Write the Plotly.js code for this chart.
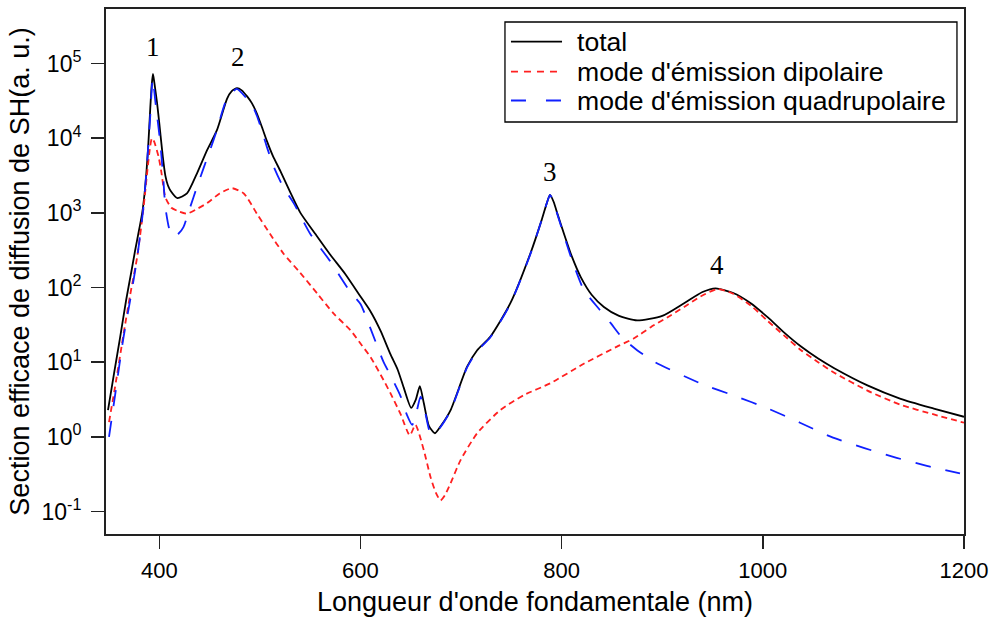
<!DOCTYPE html>
<html>
<head>
<meta charset="utf-8">
<script src="https://cdn.plot.ly/plotly-3.0.1.min.js"></script>
<style>html,body{margin:0;padding:0;background:#fff;}#chart{width:995px;height:622px;}</style>
</head>
<body>
<div id="chart"></div>
<script>
// Wavelength (nm) and SH scattering cross-section (a.u.) for each series
var totalX = [349,355,361,367,372,376,380,383,386,389,391,392.5,393.7,395,397.7,400,403.5,406,408.5,411,418,427.5,437.5,447.5,457.4,467.4,472,477.3,482,487.3,492,497,502,507,513,520.4,530,540.3,555,570,585,600,610,620,630,637,643,650.4,655,659,663,668,674,680,689.6,706,716,729,749,769,780,785,788.4,792,796,802.3,810,819,830,842,857,875,900,921.7,940,953,970,988,1005,1021,1038,1055,1071,1104,1137,1170,1200];
var totalY = [2.29,7.08,21.4,67.6,158,316,603,1000,2240,7940,25100,52500,72400,56200,30200,15800,5620,3160,2340,2000,1580,1820,3390,6920,12900,33900,42700,46800,43700,36300,29500,21400,14100,9120,5750,3630,1910,1000,525,275,151,75.9,47.9,26.3,12.6,7.94,4.57,2.45,3.16,4.79,2.82,1.41,1.12,1.41,2.29,8.71,14.5,21.9,61.7,288,794,1320,1740,1410,955,525,263,138,79.4,55,41.7,36.3,41.7,61.7,87.1,97.7,85.1,61.7,39.8,25.1,16.2,11.2,8.32,4.90,3.24,2.40,1.86];

var dipX = [350,357,364.6,371,378,384.4,388,391,392.7,395,399.3,402,406,412,419,427.5,437,447.5,460,472.3,484,497,510,523.7,540,557,573.4,590,600,610,623,630,640,649,654.7,663,669.7,675,679.6,684,689.6,699.5,716,739,762.5,789,822,855,872,888.6,905,921.7,938,955,970,988,1005,1021,1038,1055,1071,1104,1137,1170,1200];
var dipY = [1.58,5.62,24.5,79.4,257,1200,3550,7940,10000,8910,5620,3550,1620,1170,1050,977,1120,1350,1820,2140,1820,977,525,282,158,83.2,44.7,26.9,17.8,11.7,5.75,3.80,2.0,1.05,1.45,0.661,0.288,0.178,0.141,0.166,0.240,0.490,1.12,2.29,3.63,5.25,9.55,16.2,20.9,29.5,39.8,55,75.9,95.5,83.2,57.5,35.5,22.9,14.5,10,7.24,4.17,2.69,2.0,1.55];

var quadX = [350,357,364,371,378,384,388,391,393.4,396,401,404,406,410,414,419,424,430,437.5,444,450.7,457,467,477,487,492,497,502,507,513.7,523,533.6,550,570,590,600,610,623,630,640,646,651.4,656,659.7,664,669.7,674,680,689.6,706,716,729,749,769,780,785,788.4,792,796,802.3,810,822,838,849,860,875,893,941,973,1005,1037,1068,1101,1133,1164,1196];
var quadY = [1.0,4.47,20,67.6,251,1120,5010,20000,63100,31600,8510,2820,1200,603,479,525,646,1120,2240,3980,7080,12600,33100,45700,33900,28200,20000,12600,7590,4170,2240,1350,525,224,87.1,60.3,28.2,10,6.61,3.47,2.0,1.45,2.24,3.47,2.24,1.11,1.12,1.38,2.24,8.51,14.1,21.4,60.3,282,794,1320,1740,1380,933,501,240,93.3,50.1,33.1,21.4,14.5,10,5.01,3.51,2.40,1.55,1.0,0.708,0.525,0.407,0.324];

var seriesNames = ["total", "mode d'émission dipolaire", "mode d'émission quadrupolaire"];
var seriesColors = ['#000000', '#ff2020', '#1020ff'];
var seriesDash = ['solid', '6px,4px', '16px,15px'];
var legendDash = ['solid', '7px,6px', '15px,20px'];
var xTickVals = [400, 600, 800, 1000, 1200];
var yTickVals = [0.1, 1, 10, 100, 1000, 10000, 100000];
var yTickText = ["10<sup>-1</sup>","10<sup>0</sup>","10<sup>1</sup>","10<sup>2</sup>","10<sup>3</sup>","10<sup>4</sup>","10<sup>5</sup>"];
var peakLabels = ["1","2","3","4"];
var peakLabelX = [393.7, 478, 788.4, 954];
var peakLabelY = [5.22, 5.09, 3.55, 2.30];

var xs = [totalX, dipX, quadX], ys = [totalY, dipY, quadY];
var traces = xs.map(function(xv, i){
  return {x: xv, y: ys[i], name: seriesNames[i], mode: 'lines', showlegend: false,
          line: {color: seriesColors[i], width: 1.8, dash: seriesDash[i], shape: 'spline', smoothing: 0.6}};
});

var annotations = peakLabels.map(function(t, i){
  return {x: peakLabelX[i], y: peakLabelY[i], xref: 'x', yref: 'y', text: t, showarrow: false,
          font: {family: 'Liberation Serif, Times New Roman, serif', size: 27, color: '#000'}};
});

// legend box drawn in paper coordinates
var legRowY = [0.9377, 0.8806, 0.8257];
var shapes = [{type: 'rect', xref: 'paper', yref: 'paper', x0: 0.465, x1: 0.9918, y0: 0.7848, y1: 0.9752,
               line: {color: '#000', width: 1.3}, fillcolor: '#ffffff', layer: 'above'}];
seriesNames.forEach(function(n, i){
  shapes.push({type: 'line', xref: 'paper', yref: 'paper', x0: 0.472, x1: 0.5315, y0: legRowY[i], y1: legRowY[i],
               line: {color: seriesColors[i], width: 1.8, dash: legendDash[i]}, layer: 'above'});
  annotations.push({xref: 'paper', yref: 'paper', x: 0.547, y: legRowY[i], xanchor: 'left', yanchor: 'middle',
                    text: n, showarrow: false, font: {family: 'Liberation Sans, Arial, sans-serif', size: 26.6, color: '#000'}});
});

var layout = {
  width: 995, height: 622,
  margin: {l: 106, r: 31, t: 9, b: 88},
  paper_bgcolor: '#ffffff', plot_bgcolor: '#ffffff',
  font: {family: 'Liberation Sans, Arial, sans-serif', color: '#000'},
  showlegend: false,
  xaxis: {range: [347, 1200], tickvals: xTickVals, ticks: 'outside', ticklen: 13, tickwidth: 1.5,
          tickcolor: '#222', showline: true, linecolor: '#222', linewidth: 2, mirror: true,
          showgrid: false, zeroline: false, tickfont: {size: 22}, ticklabelstandoff: 3,
          title: {text: "Longueur d'onde fondamentale (nm)", font: {size: 27}, standoff: 10}},
  yaxis: {type: 'log', range: [-1.30, 5.73], tickvals: yTickVals, ticktext: yTickText,
          ticks: 'outside', ticklen: 13, tickwidth: 1.5, tickcolor: '#222',
          showline: true, linecolor: '#222', linewidth: 2, mirror: true,
          showgrid: false, zeroline: false, tickfont: {size: 23}, ticklabelstandoff: 5,
          title: {text: 'Section efficace de diffusion de SH(a. u.)', font: {size: 27}, standoff: 4}},
  shapes: shapes,
  annotations: annotations
};

Plotly.newPlot('chart', traces, layout, {displayModeBar: false, staticPlot: true});
</script>
</body>
</html>
